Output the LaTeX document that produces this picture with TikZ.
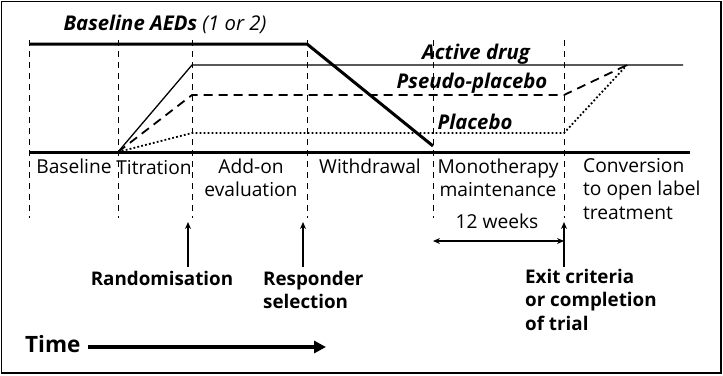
\documentclass[tikz,border=0pt]{standalone}
\usepackage{fontspec}
\setmainfont{Open Sans}
\usetikzlibrary{arrows.meta}
\begin{document}
\begin{tikzpicture}[x=1pt,y=-1pt,
  txt/.style={font=\fontsize{19.2}{23.5}\selectfont, inner sep=0pt, anchor=base},
  btxt/.style={txt, font=\fontsize{18.8}{23.5}\selectfont\bfseries},
  ititle/.style={txt, font=\fontsize{20.3}{23}\selectfont\bfseries\itshape},
  guide/.style={line width=0.8pt, dash pattern=on 6pt off 5pt},
  thickline/.style={line width=3pt},
  activeline/.style={line width=1.3pt},
  pseudoline/.style={line width=1.8pt, dash pattern=on 9pt off 6pt},
  placeboline/.style={line width=1.8pt, dash pattern=on 1.8pt off 2.2pt},
  marker/.style={line width=1.8pt, -{Stealth[length=7pt,width=6pt]}},
  span/.style={line width=1.5pt, {Stealth[length=7pt,width=6pt]}-{Stealth[length=7pt,width=6pt]}}
]
\useasboundingbox (0,0) rectangle (723,375);
\draw[line width=1.5pt] (1.5,1.5) rectangle (721,373);

% vertical guides
\foreach \xx/\nm in {29/g1,118/g2,192/g3,307/g4,433/g5,564/g6}{
  \coordinate (\nm top) at (\xx,40);
  \coordinate (\nm bot) at (\xx,218);
  \draw[guide] (\nm top) -- (\nm bot);
}

% baseline AEDs
\coordinate (aedA) at (29,44);
\coordinate (aedB) at (307,44);
\coordinate (aedC) at (433,146);
\draw[thickline, line join=miter] (aedA) -- (aedB) -- (aedC);
\node[ititle] (aedlbl) at (165,30) {Baseline AEDs \mdseries(1 or 2)};

% time axis
\coordinate (axA) at (29,152);
\coordinate (axB) at (690,152);
\draw[thickline] (axA) -- (axB);

% treatment arms
\coordinate (start) at (118,152);
\coordinate (conv) at (627,65);
\coordinate (actA) at (192,65);
\coordinate (actB) at (683,65);
\draw[activeline] (start) -- (actA) -- (actB);
\coordinate (psA) at (192,95);
\coordinate (psB) at (564,95);
\draw[pseudoline] (start) -- (psA) -- (psB) -- (conv);
\coordinate (plA) at (192,133);
\coordinate (plB) at (564,133);
\draw[placeboline] (start) -- (plA) -- (plB) -- (conv);

\node[ititle] (actlbl) at (476,59) {Active drug};
\node[ititle] (pslbl) at (472,88) {Pseudo-placebo};
\node[ititle] (pllbl) at (475,129) {Placebo};

% phase labels (base anchor of a multi-line node = last line's baseline)
\node[txt] (ph1) at (74,173) {Baseline};
\node[txt] (ph2) at (154,174) {Titration};
\node[txt, align=center] (ph3) at (251,196.5) {Add-on\\evaluation};
\node[txt] (ph4) at (370,173) {Withdrawal};
\node[txt, align=center] (ph5) at (498,196.5) {Monotherapy\\maintenance};
\node[txt, align=left, anchor=base west] (ph6) at (583,219) {Conversion\\to open label\\treatment};

% 12 weeks
\node[txt] (wk) at (497,228) {12 weeks};
\coordinate (wkA) at (433,241);
\coordinate (wkB) at (564,241);
\draw[span] (wkA) -- (wkB);

% event markers
\node[btxt] (rand) at (162,285) {Randomisation};
\node[btxt, align=left, anchor=base west] (resp) at (263,308.5) {Responder\\selection};
\node[btxt, align=left, anchor=base west] (exit) at (525,330) {Exit criteria\\or completion\\of trial};
\coordinate (randT) at (188,222);
\coordinate (randB) at (188,267);
\coordinate (respT) at (303,222);
\coordinate (respB) at (303,267);
\coordinate (exitT) at (564,222);
\coordinate (exitB) at (564,267);
\draw[marker] (randB) -- (randT);
\draw[marker] (respB) -- (respT);
\draw[marker] (exitB) -- (exitT);

% time arrow
\node[txt, anchor=base west, font=\fontsize{22.5}{26}\selectfont\bfseries] (time) at (25,352) {Time};
\coordinate (timeEnd) at (326,347);
\draw[line width=4pt, -{Triangle[length=12pt,width=12pt]}] (88,347) -- (timeEnd);
\end{tikzpicture}
\end{document}
